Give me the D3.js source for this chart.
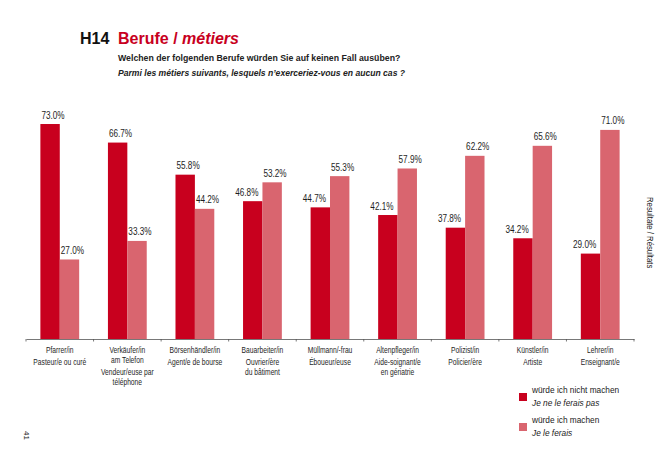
<!DOCTYPE html>
<html>
<head>
<meta charset="utf-8">
<script src="https://cdn.jsdelivr.net/npm/d3@7/dist/d3.min.js"></script>
<style>
html,body{margin:0;padding:0;background:#fff;}
svg{display:block;}
.sans{font-family:"Liberation Sans",Arial,Helvetica,sans-serif;}
</style>
</head>
<body>
<svg id="chart" width="668" height="472"></svg>
<script>
const categoriesDE = [["Pfarrer/in"],["Verkäufer/in","am Telefon"],["Börsenhändler/in"],["Bauarbeiter/in"],["Müllmann/-frau"],["Altenpfleger/in"],["Polizist/in"],["Künstler/in"],["Lehrer/in"]];
const categoriesFR = [["Pasteur/e ou curé"],["Vendeur/euse par","téléphone"],["Agent/e de bourse"],["Ouvrier/ère","du bâtiment"],["Éboueur/euse"],["Aide-soignant/e","en gériatrie"],["Policier/ère"],["Artiste"],["Enseignant/e"]];
const notDo = [73.0,66.7,55.8,46.8,44.7,42.1,37.8,34.2,29.0];
const wouldDo = [27.0,33.3,44.2,53.2,55.3,57.9,62.2,65.6,71.0];
const seriesDE = ["würde ich nicht machen","würde ich machen"];
const seriesFR = ["Je ne le ferais pas","Je le ferais"];
const colors = ["#c8001e","#d9656f"];

const svg = d3.select("#chart");
const ids = d3.range(categoriesDE.length);
const x = d3.scaleBand().domain(ids).range([26,634]).paddingInner(0).paddingOuter(0);
const groupW = 38.8;
const x1 = d3.scaleBand().domain([0,1]).range([0,groupW]);
const y = d3.scaleLinear().domain([0,100]).range([339,44.5]);

// narrow text helper (condensed look)
function narrow(sel, px, py, size, str, anchor, sx){
  return sel.append("text").attr("class","sans").attr("font-size",size).attr("fill","#1e1e1e")
    .attr("text-anchor",anchor||"start")
    .attr("transform",`translate(${px},${py}) scale(${sx||0.8},1)`).text(str);
}

// Title
const t = svg.append("text").attr("class","sans").attr("x",80).attr("y",43.5).attr("font-size",16).attr("font-weight","bold");
t.append("tspan").attr("fill","#111").text("H14");
t.append("tspan").attr("x",118).attr("fill",colors[0]).text("Berufe / ");
t.append("tspan").attr("fill",colors[0]).attr("font-style","italic").text("métiers");
svg.append("text").attr("class","sans").attr("x",118).attr("y",60.5).attr("font-size",8.75).attr("font-weight","bold").attr("fill","#222")
  .text("Welchen der folgenden Berufe würden Sie auf keinen Fall ausüben?");
svg.append("text").attr("class","sans").attr("x",118).attr("y",76).attr("font-size",8.6).attr("font-weight","bold").attr("font-style","italic").attr("fill","#222")
  .text("Parmi les métiers suivants, lesquels n’exerceriez-vous en aucun cas ?");

// Bars
const data = ids.map(i => ({i, vals:[notDo[i], wouldDo[i]]}));
const g = svg.append("g");
const groups = g.selectAll("g.grp").data(data).join("g")
  .attr("transform", d => `translate(${x(d.i) + (x.bandwidth()-groupW)/2},0)`);
groups.selectAll("rect").data(d => d.vals.map((v,s)=>({v,s}))).join("rect")
  .attr("x", d => x1(d.s)).attr("width", x1.bandwidth())
  .attr("y", d => y(d.v)).attr("height", d => y(0)-y(d.v))
  .attr("fill", d => colors[d.s]);

// Value labels
groups.each(function(d){
  const gg = d3.select(this);
  d.vals.forEach((v,s) => {
    const other = d.vals[1-s];
    const label = v.toFixed(1)+"%";
    if (s===0 && v < other) {
      narrow(gg, x1(s)+x1.bandwidth()-4, y(v)-5.5, 10, label, "end", 0.82);
    } else {
      narrow(gg, x1(s)+1, y(v)-5.5, 10, label, "start", 0.82);
    }
  });
});

// Axis
const axis = d3.axisBottom(x).tickSize(0).tickFormat("");
const ax = svg.append("g").attr("transform","translate(0,339)").call(axis);
ax.select(".domain").attr("stroke","#555").attr("stroke-width",0.8);
const bounds = ids.map(i => x(i)).concat([x.range()[1]]);
ax.selectAll("line.tk").data(bounds).join("line").attr("class","tk")
  .attr("x1",d=>d).attr("x2",d=>d).attr("y1",0).attr("y2",2.5).attr("stroke","#555").attr("stroke-width",0.8);

// Category labels
ids.forEach(i => {
  const cx = x(i) + x.bandwidth()/2;
  const de = categoriesDE[i], fr = categoriesFR[i];
  de.forEach((line,k) => narrow(svg, cx, 353 + k*9.7, 8.6, line, "middle", 0.78));
  fr.forEach((line,k) => narrow(svg, cx, 353 + de.length*9.7 + 2.5 + k*10, 8.6, line, "middle", 0.78));
});

// Legend
const leg = svg.append("g").attr("transform","translate(519,393)");
[0,1].forEach(s => {
  const lg = leg.append("g").attr("transform",`translate(0,${s*30})`);
  lg.append("rect").attr("width",8).attr("height",8).attr("fill",colors[s]);
  lg.append("text").attr("class","sans").attr("x",13).attr("y",0).attr("font-size",8.3).attr("fill","#222").text(seriesDE[s]);
  lg.append("text").attr("class","sans").attr("x",13).attr("y",13).attr("font-size",8.3).attr("font-style","italic").attr("fill","#222").text(seriesFR[s]);
});

// Side text
svg.append("text").attr("class","sans").attr("font-size",8.6).attr("fill","#222")
  .attr("transform","translate(647,197) rotate(90) scale(0.9,1)").text("Resultate / Résultats");
svg.append("text").attr("class","sans").attr("font-size",8).attr("fill","#222")
  .attr("transform","translate(24,431) rotate(90)").text("41");
</script>
</body>
</html>
